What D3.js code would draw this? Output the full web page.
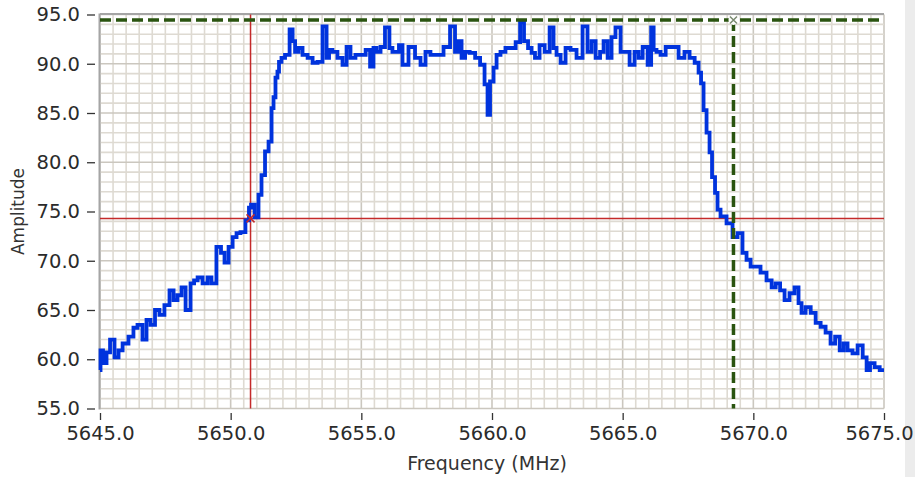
<!DOCTYPE html>
<html>
<head>
<meta charset="utf-8">
<script src="https://cdn.jsdelivr.net/npm/d3@7"></script>
<style>
  html, body { margin: 0; padding: 0; background: #ffffff; }
  svg { display: block; }
</style>
</head>
<body>
<svg id="chart" width="915" height="477"></svg>
<script>
// ---------- data ----------
const freqMHz = [
  5645.00, 5645.04, 5645.19, 5645.31, 5645.46, 5645.65, 5645.77, 5645.96, 5646.22, 5646.34,
  5646.53, 5646.72, 5646.84, 5647.03, 5647.18, 5647.37, 5647.56, 5647.76, 5647.87, 5648.06,
  5648.18, 5648.37, 5648.56, 5648.64, 5648.83, 5649.02, 5649.21, 5649.32, 5649.59, 5649.67,
  5649.86, 5649.98, 5650.17, 5650.28, 5650.47, 5650.66, 5650.74, 5650.82, 5651.01, 5651.12,
  5651.24, 5651.39, 5651.51, 5651.62, 5651.66, 5651.77, 5651.81, 5651.89, 5652.00, 5652.16,
  5652.35, 5652.39, 5652.54, 5652.65, 5652.85, 5653.04, 5653.23, 5653.42, 5653.61, 5653.73,
  5653.80, 5653.99, 5654.18, 5654.38, 5654.49, 5654.68, 5654.87, 5655.07, 5655.26, 5655.41,
  5655.52, 5655.64, 5655.83, 5655.98, 5656.17, 5656.21, 5656.40, 5656.48, 5656.67, 5656.94,
  5657.17, 5657.36, 5657.55, 5657.74, 5658.01, 5658.28, 5658.51, 5658.66, 5658.78, 5658.89,
  5659.05, 5659.24, 5659.47, 5659.62, 5659.81, 5659.85, 5660.00, 5660.12, 5660.23, 5660.42,
  5660.61, 5660.81, 5661.00, 5661.15, 5661.30, 5661.46, 5661.57, 5661.72, 5661.92, 5662.11,
  5662.30, 5662.41, 5662.53, 5662.72, 5662.91, 5663.10, 5663.37, 5663.56, 5663.75, 5663.87,
  5664.06, 5664.21, 5664.33, 5664.52, 5664.63, 5664.82, 5665.02, 5665.17, 5665.36, 5665.55,
  5665.67, 5665.86, 5666.05, 5666.13, 5666.24, 5666.35, 5666.55, 5666.74, 5667.01, 5667.27,
  5667.46, 5667.66, 5667.85, 5667.96, 5668.04, 5668.15, 5668.27, 5668.38, 5668.46, 5668.61,
  5668.65, 5668.84, 5669.11, 5669.30, 5669.49, 5669.68, 5669.80, 5669.99, 5670.18, 5670.37,
  5670.64, 5670.76, 5670.95, 5671.10, 5671.29, 5671.48, 5671.67, 5671.79, 5671.90, 5672.10,
  5672.29, 5672.48, 5672.67, 5672.86, 5673.05, 5673.21, 5673.40, 5673.51, 5673.70, 5673.89,
  5674.09, 5674.28, 5674.39, 5674.54, 5674.74, 5674.93, 5675.00
];
const amplitude = [
  58.9, 60.9, 59.6, 60.7, 62.0, 60.2, 60.9, 61.6, 62.3, 63.2,
  63.5, 62.0, 64.0, 63.5, 65.0, 64.5, 65.5, 67.0, 66.0, 66.5,
  67.3, 65.0, 67.7, 68.0, 68.3, 67.7, 68.3, 67.7, 71.4, 70.8,
  69.8, 71.4, 72.4, 72.8, 72.9, 74.1, 75.4, 75.7, 74.4, 76.7,
  78.7, 81.1, 82.1, 85.5, 86.6, 88.6, 89.2, 90.2, 90.6, 90.9,
  93.5, 92.3, 91.2, 91.6, 90.9, 90.6, 90.1, 90.2, 93.8, 90.6,
  91.4, 91.2, 90.6, 89.9, 91.7, 90.6, 90.9, 90.9, 91.4, 89.7,
  91.6, 91.2, 91.7, 93.7, 91.6, 91.2, 91.2, 91.9, 89.9, 91.7,
  90.6, 89.9, 91.2, 90.9, 90.9, 91.7, 93.8, 91.2, 92.3, 90.6,
  91.2, 91.1, 90.6, 89.9, 87.9, 84.8, 88.2, 89.6, 90.9, 91.2,
  91.6, 91.6, 92.2, 94.2, 92.3, 91.6, 91.1, 90.6, 91.9, 91.2,
  93.7, 91.6, 90.9, 90.1, 91.6, 91.4, 90.6, 93.8, 91.2, 92.3,
  90.6, 91.2, 92.3, 90.6, 92.7, 93.7, 91.2, 91.2, 89.9, 91.2,
  90.6, 91.7, 89.9, 93.7, 91.4, 91.2, 90.9, 91.7, 91.7, 90.6,
  91.2, 90.6, 90.1, 89.1, 88.0, 85.3, 83.0, 81.0, 78.5, 76.9,
  75.2, 74.5, 73.8, 72.4, 72.8, 70.8, 70.1, 69.4, 69.4, 68.8,
  68.0, 67.3, 67.7, 67.0, 66.0, 66.7, 67.3, 65.7, 64.7, 65.3,
  64.7, 63.7, 63.3, 62.7, 61.6, 62.3, 60.9, 61.6, 60.9, 60.6,
  61.4, 60.2, 58.9, 59.6, 59.2, 58.9, 58.9
];
const xTickValues = [5645, 5650, 5655, 5660, 5665, 5670, 5675];
const xTickLabels = ["5645.0", "5650.0", "5655.0", "5660.0", "5665.0", "5670.0", "5675.0"];
const yTickValues = [55, 60, 65, 70, 75, 80, 85, 90, 95];
const yTickLabels = ["55.0", "60.0", "65.0", "70.0", "75.0", "80.0", "85.0", "90.0", "95.0"];
const cursor1 = { freq: 5650.76, amp: 74.3 };   // red cursor
const cursor2 = { freq: 5669.24, amp: 94.45 };  // green dashed cursor
const xTitle = "Frequency (MHz)";
const yTitle = "Amplitude";

// ---------- layout ----------
const svg = d3.select("#chart");
const L = 100, R = 884, T = 14.5, B = 408.5;
const x = d3.scaleLinear().domain([5645, 5675]).range([L, R]);
const y = d3.scaleLinear().domain([55, 95]).range([B, T]);
const font = "'DejaVu Sans', Verdana, sans-serif";

// right light strip
svg.append("rect").attr("x", 905).attr("y", 0).attr("width", 10).attr("height", 477).attr("fill", "#ececec");

// grid
const grid = svg.append("g");
grid.selectAll("line.vx").data(x.ticks(60)).join("line")
  .attr("x1", d => x(d)).attr("x2", d => x(d)).attr("y1", T).attr("y2", B)
  .attr("stroke", d => (Math.abs(d % 5) < 1e-6 ? "#cbc7bf" : "#dedad2")).attr("stroke-width", 1.6);
grid.selectAll("line.hy").data(y.ticks(40)).join("line")
  .attr("x1", L).attr("x2", R).attr("y1", d => y(d)).attr("y2", d => y(d))
  .attr("stroke", d => (Math.abs(d % 5) < 1e-6 ? "#cbc7bf" : "#dedad2")).attr("stroke-width", 1.6);

// frame (top + left)
svg.append("line").attr("x1", L).attr("x2", R).attr("y1", T - 0.5).attr("y2", T - 0.5)
  .attr("stroke", "#a5a5a5").attr("stroke-width", 2);
svg.append("line").attr("x1", L - 0.5).attr("x2", L - 0.5).attr("y1", T - 1).attr("y2", B + 1)
  .attr("stroke", "#a5a5a5").attr("stroke-width", 2);

// axes
const yAxis = d3.axisLeft(y).tickValues(yTickValues)
  .tickFormat((d, i) => yTickLabels[i]).tickSize(8).tickPadding(7);
const gy = svg.append("g").attr("transform", `translate(${L - 5},0)`).call(yAxis);
gy.select(".domain").remove();
gy.selectAll(".tick line").attr("stroke", "#333").attr("stroke-width", 1.3);
gy.selectAll(".tick text").attr("font-family", font).attr("font-size", 19.5).attr("fill", "#2b2b2b");

const xAxis = d3.axisBottom(x).tickValues(xTickValues)
  .tickFormat((d, i) => xTickLabels[i]).tickSize(7).tickPadding(6);
const gx = svg.append("g").attr("transform", `translate(0,${B + 4.5})`).call(xAxis);
gx.select(".domain").remove();
gx.selectAll(".tick line").attr("stroke", "#333").attr("stroke-width", 1.3);
gx.selectAll(".tick text").attr("font-family", font).attr("font-size", 19.5).attr("fill", "#2b2b2b");
// keep the last label inside the window
gx.selectAll(".tick text").filter((d, i) => i === xTickValues.length - 1).attr("dx", -5);

// titles
svg.append("text").attr("x", 487).attr("y", 470).attr("text-anchor", "middle")
  .attr("font-family", font).attr("font-size", 19).attr("fill", "#333").text(xTitle);
svg.append("text").attr("transform", `translate(24,${(T + B) / 2}) rotate(-90)`).attr("text-anchor", "middle")
  .attr("font-family", font).attr("font-size", 17).attr("fill", "#333").text(yTitle);

// red cursor lines
svg.append("line").attr("x1", L).attr("x2", R).attr("y1", y(cursor1.amp)).attr("y2", y(cursor1.amp))
  .attr("stroke", "#c42a2a").attr("stroke-width", 1.5);
svg.append("line").attr("x1", x(cursor1.freq)).attr("x2", x(cursor1.freq)).attr("y1", T).attr("y2", B)
  .attr("stroke", "#c42a2a").attr("stroke-width", 1.5);

// trace
const pts = freqMHz.map((f, i) => [f, amplitude[i]]);
const line = d3.line().x(d => x(d[0])).y(d => y(d[1])).curve(d3.curveStep);
svg.append("path").datum(pts).attr("d", line)
  .attr("fill", "none").attr("stroke", "#0033dd").attr("stroke-width", 3.8)
  .attr("stroke-linejoin", "miter");

// green dashed cursor lines
svg.append("line").attr("x1", L).attr("x2", R).attr("y1", y(cursor2.amp)).attr("y2", y(cursor2.amp))
  .attr("stroke", "#2a5410").attr("stroke-width", 3.5).attr("stroke-dasharray", "11,5");
svg.append("line").attr("x1", x(cursor2.freq)).attr("x2", x(cursor2.freq)).attr("y1", y(cursor2.amp)).attr("y2", B)
  .attr("stroke", "#2a5410").attr("stroke-width", 3.5).attr("stroke-dasharray", "11,5");

// markers
function xMark(cx, cy, color, s) {
  svg.append("path").attr("d", `M${cx - s},${cy - s}L${cx + s},${cy + s}M${cx - s},${cy + s}L${cx + s},${cy - s}`)
    .attr("stroke", color).attr("stroke-width", 1.5).attr("fill", "none");
}
xMark(x(cursor1.freq), y(cursor1.amp), "#c42a2a", 4);
svg.append("circle").attr("cx", x(cursor2.freq)).attr("cy", y(cursor2.amp)).attr("r", 5).attr("fill", "#ffffff");
xMark(x(cursor2.freq), y(cursor2.amp), "#7a8a70", 3.5);
</script>
</body>
</html>
